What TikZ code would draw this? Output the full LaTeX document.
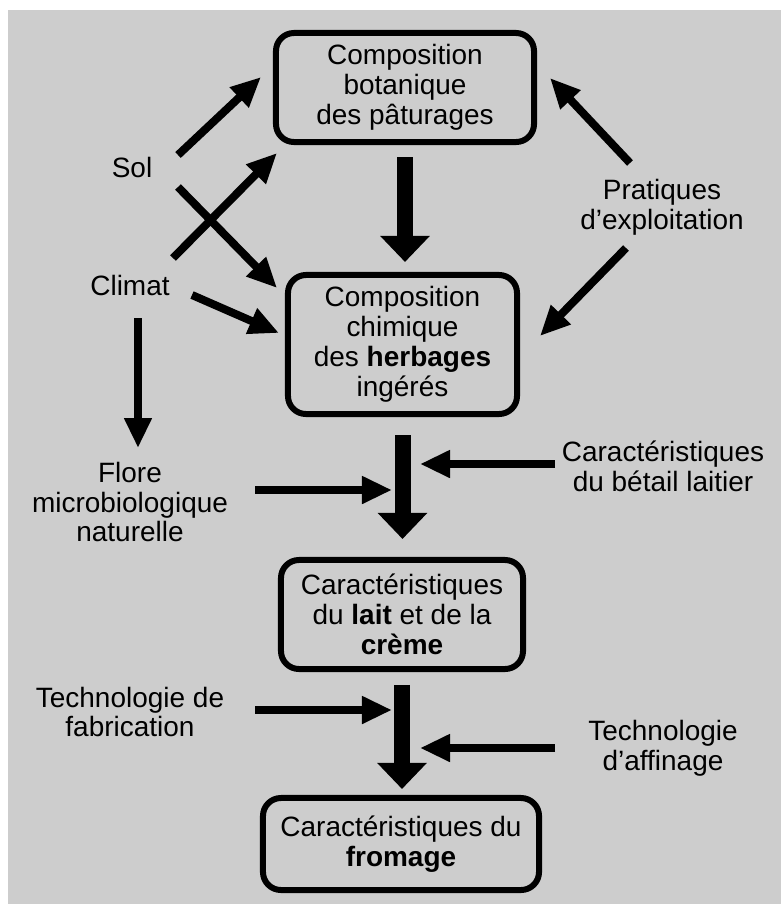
\documentclass[tikz,border=0pt]{standalone}
\usepackage{fontspec}
\setmainfont{Liberation Sans}
\usetikzlibrary{arrows.meta}
\definecolor{bgc}{RGB}{205,205,205}
\begin{document}
\begin{tikzpicture}[x=0.025cm,y=-0.025cm,
  txt/.style={align=center,font=\fontsize{19.9}{21.3}\selectfont,inner sep=0pt},
  box/.style={txt,draw,line width=0.15cm,rounded corners=0.45cm},
  thinarrow/.style={line width=0.2cm,-{Triangle[length=0.75cm,width=0.65cm]}},
  bigarrow/.style={line width=0.4cm,-{Triangle[length=0.65cm,width=1.2cm]}}]
\useasboundingbox (0,0) rectangle (781,904);
\fill[bgc] (8,10) rectangle (781,904);

% boxes
\node[box,minimum width=6.45cm,minimum height=2.725cm] (b1) at (405,87.5) {Composition\\botanique\\des pâturages};
\node[box,minimum width=5.725cm,minimum height=3.475cm] (b2) at (402.5,344.5) {Composition\\chimique\\des \textbf{herbages}\\ingérés};
\node[box,minimum width=6.05cm,minimum height=2.725cm] (b3) at (402,614.5) {Caractéristiques\\du \textbf{lait} et de la\\\textbf{crème}};
\node[box,minimum width=6.9cm,minimum height=2.3cm] (b4) at (401,844) {Caractéristiques du\\\textbf{fromage}};

% labels
\node[txt] (sol) at (132,167) {Sol};
\node[txt] (climat) at (130,285) {Climat};
\node[txt] (prat) at (662,207) {Pratiques\\d'exploitation};
\node[txt] (flore) at (130,502) {Flore\\microbiologique\\naturelle};
\node[txt] (betail) at (663,466) {Caractéristiques\\du bétail laitier};
\node[txt] (fab) at (130,712) {Technologie de\\fabrication};
\node[txt] (aff) at (663,748) {Technologie\\d'affinage};

% arrow end points
\coordinate (sA) at (178,155);  \coordinate (sAt) at (261,77);
\coordinate (sB) at (178,187);  \coordinate (sBt) at (277,288);
\coordinate (cA) at (173,258);  \coordinate (cAt) at (277,153);
\coordinate (cB) at (192,295);  \coordinate (cBt) at (279,333);
\coordinate (cC) at (138,318);  \coordinate (cCt) at (138,448);
\coordinate (pA) at (630,163);  \coordinate (pAt) at (550,78);
\coordinate (pB) at (626,248);  \coordinate (pBt) at (540,336);
\coordinate (fA) at (255,490);  \coordinate (fAt) at (392,490);
\coordinate (bA) at (555,464);  \coordinate (bAt) at (420,464);
\coordinate (tA) at (255,710);  \coordinate (tAt) at (392,710);
\coordinate (aA) at (555,748);  \coordinate (aAt) at (420,748);

\draw[thinarrow] (sA) -- (sAt);
\draw[thinarrow] (sB) -- (sBt);
\draw[thinarrow] (cA) -- (cAt);
\draw[thinarrow] (cB) -- (cBt);
\draw[thinarrow] (cC) -- (cCt);
\draw[thinarrow] (pA) -- (pAt);
\draw[thinarrow] (pB) -- (pBt);
\draw[thinarrow] (fA) -- (fAt);
\draw[thinarrow] (bA) -- (bAt);
\draw[thinarrow] (tA) -- (tAt);
\draw[thinarrow] (aA) -- (aAt);

% main flow
\draw[bigarrow,shorten <=0.3cm,shorten >=0.25cm] (b1.south) -- (b1.south |- b2.north);
\draw[bigarrow,shorten <=0.45cm,shorten >=0.45cm] (b2.south) -- (b2.south |- b3.north);
\draw[bigarrow,shorten <=0.32cm,shorten >=0.15cm] (b3.south) -- (b3.south |- b4.north);
\end{tikzpicture}
\end{document}
